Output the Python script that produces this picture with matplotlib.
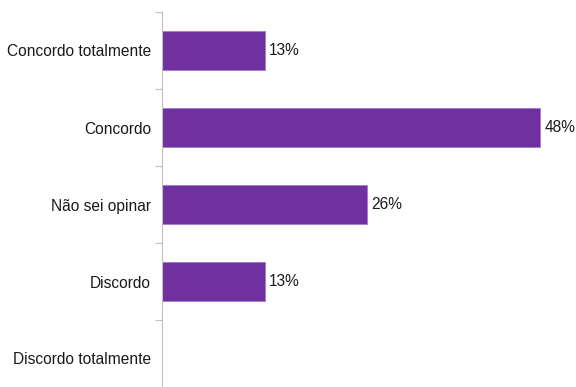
import matplotlib.pyplot as plt
import numpy as np

categorias = ['Concordo totalmente', 'Concordo', 'Não sei opinar',
              'Discordo', 'Discordo totalmente']
valores = [13, 48, 26, 13, 0]
rotulos = ['13%', '48%', '26%', '13%', '']

plt.rcParams['font.family'] = ['Liberation Sans', 'DejaVu Sans']

fig = plt.figure(figsize=(5.76, 3.87), dpi=100)
# o eixo continua abaixo da borda da figura
ax = fig.add_axes([162 / 576, -10 / 387, 410 / 576, 385 / 387])

y = np.arange(len(categorias))
ax.barh(y, valores, height=0.5, color='#7030A0', edgecolor='#A27BD0',
        linewidth=0.6)

for yi, v, r in zip(y, valores, rotulos):
    if r:
        ax.text(v + 0.5, yi, r, va='center', ha='left', fontsize=11.2,
                color='#1a1a1a')

ax.set_xlim(0, 52)
ax.set_ylim(len(categorias) - 0.5, -0.5)
ax.set_yticks(y)
ax.set_yticklabels(categorias, fontsize=11.2, color='#1a1a1a')
ax.set_yticks(np.arange(-0.5, len(categorias), 1), minor=True)
ax.tick_params(axis='y', which='major', length=0, pad=8)
ax.tick_params(axis='y', which='minor', length=5, width=0.8,
               color='#BFBFBF')
ax.set_xticks([])

for s in ['top', 'right', 'bottom']:
    ax.spines[s].set_visible(False)
ax.spines['left'].set_color('#BFBFBF')
ax.spines['left'].set_linewidth(0.8)

fig.savefig('out.png', dpi=100)
plt.close('all')
